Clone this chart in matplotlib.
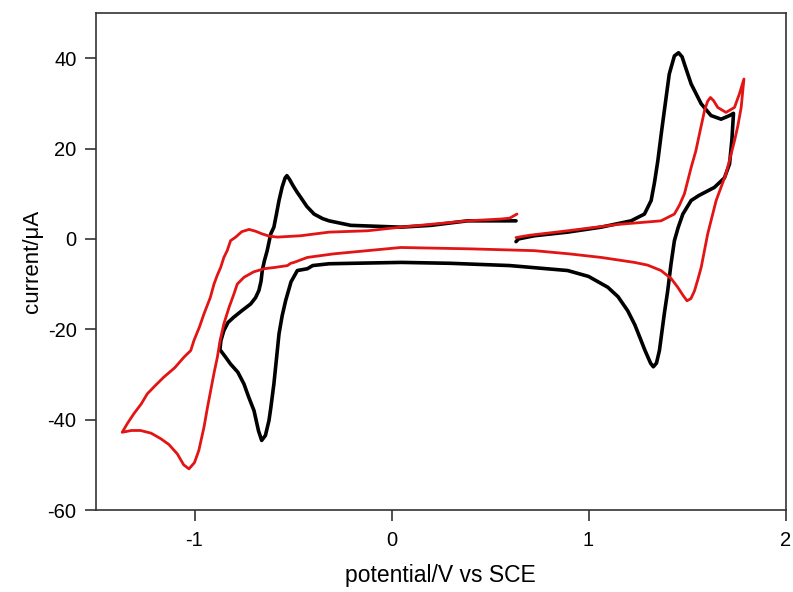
import matplotlib
matplotlib.use("Agg")
import matplotlib.pyplot as plt

plt.rcParams['font.family'] = ['Liberation Sans', 'DejaVu Sans']

# Black CV (potential V, current uA)
black_E = [0.632, 0.645, 0.725, 0.894, 1.064, 1.216, 1.284, 1.318, 1.335, 1.352, 1.370, 1.385,
           1.410, 1.436, 1.457, 1.475, 1.487, 1.521, 1.572, 1.622, 1.673, 1.716, 1.736,
           1.728, 1.716, 1.690, 1.639, 1.560, 1.521, 1.479, 1.455, 1.436, 1.419, 1.402,
           1.385, 1.360, 1.345, 1.329, 1.315, 1.300, 1.285, 1.267, 1.235, 1.199, 1.150,
           1.098, 1.000, 0.894, 0.600, 0.300, 0.050, -0.200, -0.317, -0.400, -0.427,
           -0.478, -0.510, -0.537, -0.555, -0.571, -0.585, -0.597, -0.613, -0.622, -0.640,
           -0.659, -0.675, -0.698, -0.725, -0.749, -0.780, -0.817, -0.845, -0.871,
           -0.866, -0.851, -0.830, -0.800, -0.760, -0.715, -0.690, -0.673, -0.662, -0.656,
           -0.645, -0.631, -0.613, -0.597, -0.584, -0.571, -0.555, -0.540, -0.531, -0.518,
           -0.500, -0.480, -0.461, -0.430, -0.393, -0.350, -0.317, -0.207, 0.047, 0.200,
           0.386, 0.632]
black_I = [-0.6, 0.0, 0.7, 1.5, 2.6, 4.0, 5.5, 8.5, 12.5, 17.3, 23.5, 28.4,
           36.5, 40.5, 41.2, 40.3, 38.7, 34.3, 29.9, 27.3, 26.5, 27.3, 27.8,
           22.0, 16.6, 13.5, 11.4, 9.6, 8.5, 5.5, 2.5, -0.4, -5.5, -11.5,
           -16.5, -24.7, -27.5, -28.3, -27.5, -26.0, -24.5, -22.5, -19.0, -15.9, -12.8,
           -10.7, -8.3, -7.0, -5.9, -5.4, -5.2, -5.4, -5.5, -5.9, -6.6,
           -7.0, -9.5, -13.6, -17.0, -21.0, -27.0, -32.1, -37.5, -40.2, -43.5,
           -44.6, -42.5, -38.0, -35.0, -32.1, -29.5, -27.7, -26.0, -24.5,
           -22.5, -20.3, -18.5, -17.3, -15.9, -14.4, -13.0, -11.4, -9.3, -7.0,
           -4.8, -2.6, 1.1, 2.6, 5.5, 8.5, 11.5, 13.5, 14.0, 13.2,
           11.8, 10.4, 9.2, 7.2, 5.5, 4.5, 4.0, 3.0, 2.6, 3.0,
           4.0, 4.0]

# Red CV
red_E = [0.632, 0.700, 0.894, 1.148, 1.368, 1.436, 1.462, 1.487, 1.521, 1.545, 1.563, 1.589,
         1.605, 1.619, 1.635, 1.656, 1.698, 1.741, 1.766, 1.789,
         1.775, 1.758, 1.741, 1.698, 1.648, 1.605, 1.572, 1.555, 1.538, 1.520, 1.500,
         1.480, 1.453, 1.420, 1.368, 1.300, 1.233, 1.064, 0.900, 0.725, 0.400, 0.047,
         -0.292, -0.427, -0.495, -0.512, -0.528, -0.590, -0.647, -0.700, -0.749, -0.783,
         -0.800, -0.825, -0.851, -0.870, -0.884, -0.900, -0.918, -0.935, -0.952, -0.978,
         -1.000, -1.028, -1.055, -1.087, -1.130, -1.172, -1.220, -1.274, -1.320, -1.367,
         -1.340, -1.308, -1.270, -1.240, -1.200, -1.156, -1.100, -1.054, -1.019, -1.003,
         -0.975, -0.952, -0.920, -0.901, -0.884, -0.867, -0.851, -0.834, -0.817, -0.791,
         -0.760, -0.723, -0.690, -0.656, -0.620, -0.579, -0.461, -0.317, -0.122, 0.047,
         0.217, 0.386, 0.555, 0.600, 0.637]
red_I = [0.3, 0.8, 1.8, 3.2, 4.0, 5.5, 7.5, 10.0, 15.8, 19.5, 23.2, 28.4,
         30.5, 31.3, 30.6, 29.1, 28.0, 29.1, 32.1, 35.4,
         29.1, 25.0, 21.7, 14.4, 8.5, 1.1, -6.3, -9.0, -11.5, -13.2, -13.7,
         -12.5, -10.7, -8.8, -7.0, -5.8, -5.2, -4.1, -3.3, -2.6, -2.2, -1.9,
         -3.3, -4.1, -5.2, -5.4, -5.9, -6.3, -6.6, -7.3, -8.5, -10.0,
         -12.2, -15.2, -18.8, -22.5, -26.2, -29.5, -33.6, -37.5, -41.7, -46.8,
         -49.5, -50.9, -50.0, -47.6, -45.5, -44.2, -43.0, -42.4, -42.4, -42.8,
         -40.8, -38.7, -36.5, -34.3, -32.5, -30.6, -28.5, -26.2, -24.7, -22.5,
         -19.5, -16.6, -13.0, -10.0, -8.0, -6.3, -4.1, -2.6, -0.4, 0.4,
         1.6, 2.1, 1.7, 1.1, 0.6, 0.4, 0.7, 1.5, 1.8, 2.6,
         3.3, 4.0, 4.4, 4.6, 5.5]

fig = plt.figure(figsize=(7.93, 5.92), dpi=100)
ax = fig.add_axes([96/793, 1 - 510/592, (785.5 - 96)/793, (510 - 13)/592])

ax.plot(black_E, black_I, color='black', lw=2.6, solid_joinstyle='round', solid_capstyle='round')
ax.plot(red_E, red_I, color='#e31414', lw=2.0, solid_joinstyle='round', solid_capstyle='round')

ax.set_xlim(-1.5, 2.0)
ax.set_ylim(-60, 50)
ax.set_xticks([-1, 0, 1, 2])
ax.set_xticklabels(['-1', '0', '1', '2'])
ax.set_yticks([-60, -40, -20, 0, 20, 40])
ax.set_yticklabels(['-60', '-40', '-20', '0', '20', '40'])
ax.tick_params(direction='out', length=8, width=1.2, labelsize=14.5, color='#333333')
ax.tick_params(axis='x', pad=7)
ax.tick_params(axis='y', pad=6)
for s in ax.spines.values():
    s.set_linewidth(1.2)
    s.set_color('#333333')

ax.set_xlabel('potential/V vs SCE', fontsize=16.5, labelpad=10)
ax.set_ylabel('current/\u03bcA', fontsize=16, labelpad=3)

fig.savefig('out.png', dpi=100)
